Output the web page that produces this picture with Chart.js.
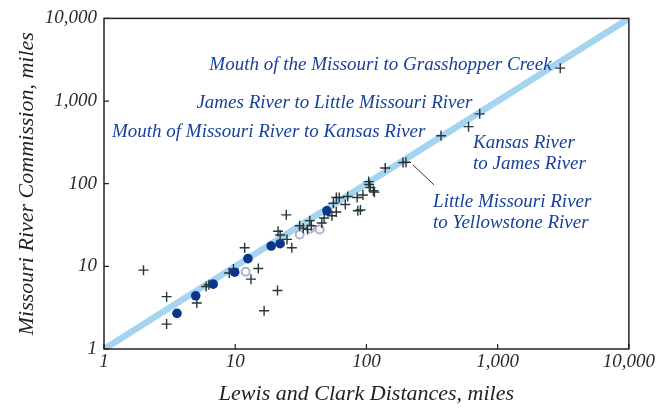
<!DOCTYPE html>
<html>
<head>
<meta charset="utf-8">
<script src="https://cdn.jsdelivr.net/npm/chart.js@4"></script>
<style>
  html, body { margin: 0; padding: 0; background: #fff; }
  #wrap { width: 657px; height: 408px; }
</style>
</head>
<body>
<div id="wrap"><canvas id="chart" width="657" height="408"></canvas></div>
<script>
// Lewis and Clark distance (x) vs Missouri River Commission distance (y), miles
const crossX = [2.0, 3.0, 3.0, 5.1, 6.0, 6.3, 9.0, 9.7, 11.8, 13.2, 15.0, 16.6, 21, 21.2, 22, 24.8, 27, 24.5,
  31, 33, 35.6, 37, 38, 45.7, 47.6, 54.6, 58.9, 56, 59, 62, 69, 72, 85, 86, 90, 94,
  104, 105, 107, 113, 115, 139, 190, 200, 370, 600, 730, 3000];
const crossY = [9.0, 4.3, 2.0, 3.6, 5.7, 6.0, 8.3, 9.3, 16.8, 7.0, 9.4, 2.9, 5.1, 26.6, 24, 21.2, 16.8, 42,
  31, 29, 28, 35.7, 31, 33.5, 38.4, 41, 45.4, 58, 68, 68, 56, 70, 68, 47, 48, 73,
  106, 98, 90, 82, 79, 155, 180, 182, 380, 490, 700, 2500];

const dotX = [3.6, 5.0, 6.8, 9.9, 12.5, 18.8, 22, 50];
const dotY = [2.7, 4.4, 6.1, 8.5, 12.4, 17.6, 18.8, 47];

const ringX = [12, 31, 37.3, 44];
const ringY = [8.6, 24.3, 28.7, 28];

const lineX = [1, 10000];
const lineY = [1, 10000];

const tickValues = [1, 10, 100, 1000, 10000];

// labels anchored in data units: left edge x, baseline y of first line
const notes = [
  { x: 6.35, y: 2384, lines: ['Mouth of the Missouri to Grasshopper Creek'] },
  { x: 5.06, y: 813, lines: ['James River to Little Missouri River'] },
  { x: 1.15, y: 365, lines: ['Mouth of Missouri River to Kansas River'] },
  { x: 649, y: 270, lines: ['Kansas River', 'to James River'] },
  { x: 322, y: 51.6, lines: ['Little Missouri River', 'to Yellowstone River'] }
];
const leader = { x1: 226, y1: 169, x2: 327, y2: 97 };

const toPts = (xs, ys) => xs.map((v, i) => ({ x: v, y: ys[i] }));
const serif = '"Liberation Serif", "DejaVu Serif", serif';
const navy = '#17409a';

const frame = {
  id: 'frame',
  afterDatasetsDraw(chart) {
    const { ctx, chartArea: a, scales } = chart;
    ctx.save();
    ctx.strokeStyle = '#222';
    ctx.lineWidth = 1.5;
    ctx.strokeRect(a.left, a.top, a.right - a.left, a.bottom - a.top);
    ctx.lineWidth = 1.2;
    ctx.beginPath();
    tickValues.forEach(v => {
      const px = scales.x.getPixelForValue(v);
      ctx.moveTo(px, a.bottom); ctx.lineTo(px, a.bottom - 5);
      const py = scales.y.getPixelForValue(v);
      ctx.moveTo(a.left, py); ctx.lineTo(a.left + 5, py);
    });
    ctx.stroke();

    // leader line
    ctx.strokeStyle = '#333';
    ctx.lineWidth = 1;
    ctx.beginPath();
    ctx.moveTo(scales.x.getPixelForValue(leader.x1), scales.y.getPixelForValue(leader.y1));
    ctx.lineTo(scales.x.getPixelForValue(leader.x2), scales.y.getPixelForValue(leader.y2));
    ctx.stroke();

    ctx.fillStyle = navy;
    ctx.font = 'italic 19px ' + serif;
    ctx.textAlign = 'left';
    ctx.textBaseline = 'alphabetic';
    notes.forEach(n => {
      const px = scales.x.getPixelForValue(n.x);
      const py = scales.y.getPixelForValue(n.y);
      n.lines.forEach((t, i) => ctx.fillText(t, px, py + i * 20.5));
    });
    ctx.restore();
  }
};

const axisTicks = {
  color: '#2a2a2a',
  font: { family: serif, style: 'italic', size: 19 },
  callback: v => tickValues.includes(v) ? v.toLocaleString('en-US') : ''
};

new Chart(document.getElementById('chart'), {
  type: 'scatter',
  data: {
    datasets: [
      {
        data: toPts(lineX, lineY), showLine: true, borderColor: '#a4d4f2',
        borderWidth: 6.5, pointRadius: 0, order: 10
      },
      {
        data: toPts(ringX, ringY), pointStyle: 'circle', pointRadius: 4,
        backgroundColor: '#fff', borderColor: '#a9b3cb', borderWidth: 2, order: 3
      },
      {
        data: toPts(crossX, crossY), pointStyle: 'cross', pointRadius: 5,
        borderColor: '#263535', borderWidth: 1.4, order: 2
      },
      {
        data: toPts(dotX, dotY), pointStyle: 'circle', pointRadius: 4.8,
        backgroundColor: '#0a3589', borderColor: '#0a3589', borderWidth: 0, order: 1
      }
    ]
  },
  options: {
    responsive: false,
    animation: false,
    events: [],
    layout: { padding: { top: 15, right: 28, left: 0, bottom: 0 } },
    plugins: { legend: { display: false }, tooltip: { enabled: false } },
    scales: {
      x: {
        type: 'logarithmic', min: 1, max: 10000,
        grid: { display: false, drawTicks: false },
        border: { display: false },
        afterBuildTicks: s => { s.ticks = tickValues.map(v => ({ value: v })); },
        afterFit: s => { s.height = 59; },
        ticks: { ...axisTicks, padding: 2, maxRotation: 0, autoSkip: false },
        title: {
          display: true, text: 'Lewis and Clark Distances, miles', color: '#222',
          font: { family: serif, style: 'italic', size: 22 }, padding: { bottom: 1 }
        }
      },
      y: {
        type: 'logarithmic', min: 1, max: 10000,
        grid: { display: false, drawTicks: false },
        border: { display: false },
        afterBuildTicks: s => { s.ticks = tickValues.map(v => ({ value: v })); },
        afterFit: s => { s.width = 104; },
        ticks: { ...axisTicks, padding: 7, autoSkip: false },
        title: {
          display: true, text: 'Missouri River Commission, miles', color: '#222',
          font: { family: serif, style: 'italic', size: 22 }, padding: { top: 14 }
        }
      }
    }
  },
  plugins: [frame]
});
</script>
</body>
</html>
